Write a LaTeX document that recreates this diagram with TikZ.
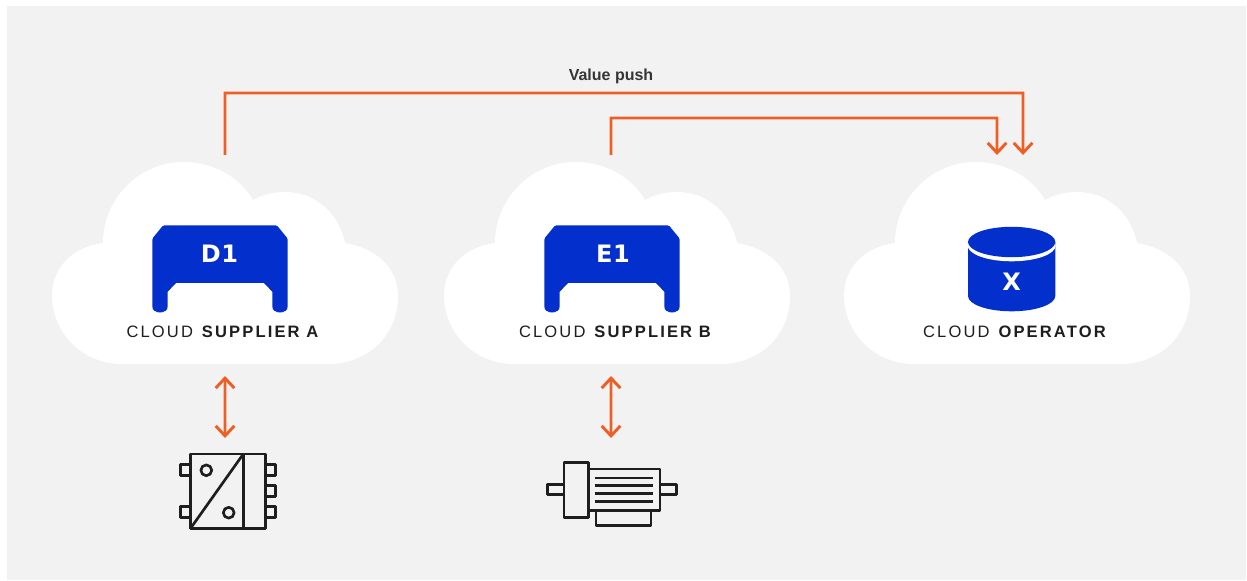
\documentclass[tikz,border=0pt]{standalone}
\usepackage{fontspec}
\usetikzlibrary{arrows.meta}
\setmainfont{Liberation Sans}
\newfontfamily\labfont[LetterSpace=13]{Liberation Sans}
\newfontfamily\iconfont[LetterSpace=3]{DejaVu Sans}
\definecolor{bgc}{HTML}{F2F2F2}
\definecolor{org}{HTML}{EE5F26}
\definecolor{blu}{HTML}{0330CC}
\definecolor{ink}{HTML}{1E1E1E}
\tikzset{
  barbtip/.tip={Straight Barb[length=7.5pt,width=14pt,line width=2.2pt]},
  conn/.style={draw=org,line width=2.1pt,-barbtip},
  both/.style={draw=org,line width=2.1pt,barbtip-barbtip},
  ico/.style={draw=ink,line width=2pt,line join=round},
  captxt/.style={font=\labfont\fontsize{12.4pt}{14pt}\selectfont,text=ink,inner sep=0pt,anchor=center},
  tagtxt/.style={font=\iconfont\bfseries\fontsize{18pt}{20pt}\selectfont,text=white,inner sep=0pt},
  cloudshape/.pic={
    \fill[white] (122,364)
      .. controls (82,364) and (52,332) .. (52,296)
      .. controls (52,268) and (72,247) .. (103,243)
      .. controls (103,199) and (139,162) .. (183,162)
      .. controls (213,162) and (240,177) .. (253,200)
      .. controls (262,195) and (273,192) .. (285,192)
      .. controls (315,192) and (339,213) .. (345,243)
      .. controls (376,248) and (398,268) .. (398,296)
      .. controls (398,335) and (368,364) .. (328,364) -- cycle;
  },
  benchshape/.pic={
    \fill[blu] (164.5,225.3) -- (275.5,225.3) .. controls (276.5,225.3) and (277,225.6) .. (277.6,226.3)
      -- (286.8,237.5) .. controls (287.4,238.2) and (287.7,238.8) .. (287.7,240)
      -- (287.7,306) .. controls (287.7,310) and (285,312.3) .. (282,312.3)
      -- (278,312.3) .. controls (275,312.3) and (272.3,310) .. (272.3,306)
      -- (272.3,291.7) -- (264,283) -- (176,283) -- (167.7,291.7) -- (167.7,306)
      .. controls (167.7,310) and (165,312.3) .. (162,312.3)
      -- (158,312.3) .. controls (155,312.3) and (152.3,310) .. (152.3,306)
      -- (152.3,240) .. controls (152.3,238.8) and (152.6,238.2) .. (153.2,237.5)
      -- (162.4,226.3) .. controls (163,225.6) and (163.5,225.3) .. (164.5,225.3) -- cycle;
  }
}
\begin{document}
\begin{tikzpicture}[x=0.75pt,y=-0.75pt]
\useasboundingbox (0,0) rectangle (1247,581);
\fill[white] (0,0) rectangle (1247,581);
\fill[bgc] (7,6) rectangle (1246,580);

% clouds
\pic at (0,0) {cloudshape};
\pic at (392,0) {cloudshape};
\pic at (792,0) {cloudshape};

% blue icons
\pic at (0,0) {benchshape};
\pic at (392,0) {benchshape};
\fill[blu] (968,242) -- (968,296) .. controls (968,304.5) and (987.5,311.3) .. (1011.65,311.3) .. controls (1035.8,311.3) and (1055.3,304.5) .. (1055.3,296) -- (1055.3,242) -- cycle;
\fill[white] (1011.65,245.5) ellipse[x radius=44,y radius=15.8];
\fill[blu] (1011.65,242) ellipse[x radius=43.65,y radius=15.2];

\node[tagtxt] (d1) at (219.5,254) {D1};
\node[tagtxt] (e1) at (613,254) {E1};
\node[tagtxt] (x1) at (1011.5,282) {X};

% captions
\node[captxt] (capa) at (223.5,331.5) {CLOUD \textbf{SUPPLIER A}};
\node[captxt] (capb) at (616,331.5) {CLOUD \textbf{SUPPLIER B}};
\node[captxt] (capo) at (1015.5,331.5) {CLOUD \textbf{OPERATOR}};

\node[font=\bfseries\fontsize{12pt}{14pt}\selectfont,text=ink!90!white,inner sep=0pt] (vp) at (611,76) {Value push};

% connector ends
\coordinate (a0) at (225.04,155);
\coordinate (a1) at (225,93);
\coordinate (a2) at (1023,93.04);
\coordinate (a3) at (1023.04,155);
\coordinate (b0) at (611.04,155);
\coordinate (b1) at (611,118);
\coordinate (b2) at (997,118.04);
\coordinate (b3) at (997.04,155);
\coordinate (ua) at (225,376);
\coordinate (la) at (225.04,438);
\coordinate (ub) at (611,376);
\coordinate (lb) at (611.04,438);

\draw[conn,line join=miter] (a0) -- (a1) -- (a2) -- (a3);
\draw[conn,line join=miter] (b0) -- (b1) -- (b2) -- (b3);
\draw[both] (ua) -- (la);
\draw[both] (ub) -- (lb);

% converter icon
\draw[ico] (190.3,454) rectangle (265.3,528.7);
\draw[ico] (243.3,454) -- (243.3,528.7);
\draw[ico] (190.3,528.7) -- (243.3,454);
\draw[ico] (206.3,470.3) circle[radius=5.4];
\draw[ico] (228.7,512.7) circle[radius=5.4];
\draw[ico] (190.3,464.7) -- (180.3,464.7) -- (180.3,475.7) -- (190.3,475.7);
\draw[ico] (190.3,506.7) -- (180.3,506.7) -- (180.3,517.7) -- (190.3,517.7);
\draw[ico] (265.3,464.7) -- (275.8,464.7) -- (275.8,475.7) -- (265.3,475.7);
\draw[ico] (265.3,485.7) -- (275.8,485.7) -- (275.8,496.7) -- (265.3,496.7);
\draw[ico] (265.3,506.7) -- (275.8,506.7) -- (275.8,517.7) -- (265.3,517.7);

% motor icon
\draw[ico] (564,462.3) rectangle (588.3,517.3);
\draw[ico] (588.3,469) rectangle (660,510.3);
\draw[ico] (594.7,478) -- (653,478);
\draw[ico] (594.7,485.7) -- (653,485.7);
\draw[ico] (594.7,493.3) -- (653,493.3);
\draw[ico] (594.7,501.3) -- (653,501.3);
\draw[ico] (564,484.3) -- (547.7,484.3) -- (547.7,494.7) -- (564,494.7);
\draw[ico] (660,484.3) -- (676.3,484.3) -- (676.3,494.7) -- (660,494.7);
\draw[ico] (596,510.3) -- (596,525.7) -- (651,525.7) -- (651,510.3);
\end{tikzpicture}
\end{document}
